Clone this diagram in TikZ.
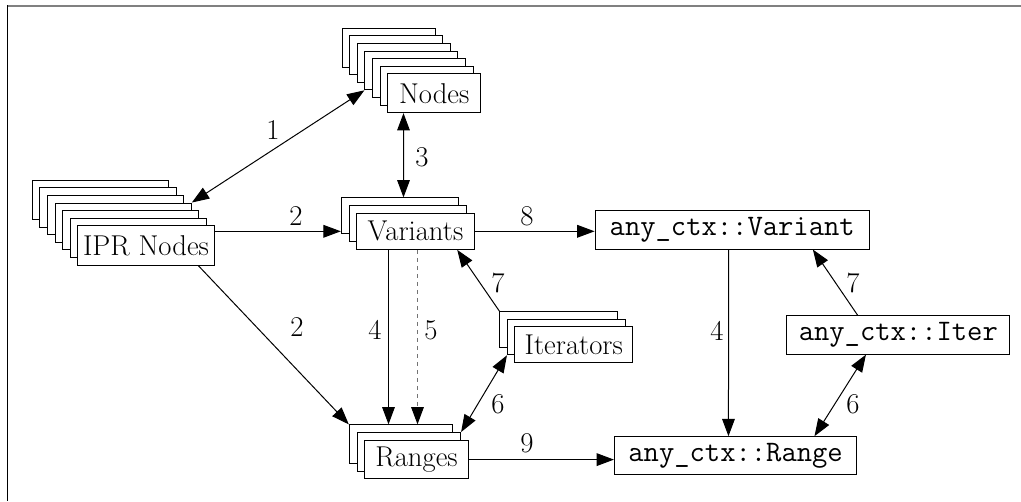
\documentclass[tikz,border=0pt]{standalone}
\usepackage{fontspec}
\usetikzlibrary{arrows.meta,calc}
\begin{document}
\begin{tikzpicture}[x=0.75pt,y=-0.75pt,
  stk/.style={draw=black, line width=0.75pt, fill=white, inner sep=0pt, font=\fontsize{21.5}{24}\selectfont},
  mono/.style={draw=black, line width=0.75pt, fill=white, inner sep=0pt, font=\ttfamily\fontsize{22.3}{25}\selectfont},
  edge/.style={line width=0.75pt, -{Triangle[length=13pt,width=9.5pt]}},
  bedge/.style={line width=0.75pt, {Triangle[length=13pt,width=9.5pt]}-{Triangle[length=13pt,width=9.5pt]}},
  lab/.style={font=\fontsize{21.5}{24}\selectfont, inner sep=0pt}]
\useasboundingbox (0,0) rectangle (1021,501);
% frame
\draw[gray, line width=1.5pt] (7,5.5) -- (1021,5.5);
\draw[black, line width=0.9pt] (7.3,5) -- (7.3,501);

% IPR Nodes stack
\foreach \i in {0,...,5}{\node[stk, minimum width=102.2pt, minimum height=29.5pt] (ipr\i) at ({100.4+\i*7.6},{199.9+\i*7.6}) {};}
\node[stk, minimum width=102.2pt, minimum height=29.5pt] (ipr6) at (146,245.5) {IPR Nodes};

% Nodes stack
\foreach \i in {0,...,5}{\node[stk, minimum width=69.75pt, minimum height=29pt] (nodes\i) at ({388.6+\i*7.6},{47.7+\i*7.6}) {};}
\node[stk, minimum width=69.75pt, minimum height=29pt] (nodes6) at (434.2,93.3) {Nodes};

% Variants stack
\foreach \i in {0,1}{\node[stk, minimum width=88.2pt, minimum height=27pt] (var\i) at ({400.1+\i*7.7},{215.9+\i*7.7}) {};}
\node[stk, minimum width=88.2pt, minimum height=27pt] (var2) at (415.5,231.3) {Variants};

% Ranges stack
\foreach \i in {0,1}{\node[stk, minimum width=77.7pt, minimum height=29pt] (rng\i) at ({401.1+\i*7.7},{444.2+\i*7.7}) {};}
\node[stk, minimum width=77.7pt, minimum height=29pt] (rng2) at (416.5,459.6) {Ranges};

% Iterators stack
\foreach \i in {0,1}{\node[stk, minimum width=88.3pt, minimum height=26.7pt] (it\i) at ({558.8+\i*7.5},{329.5+\i*7.5}) {};}
\node[stk, minimum width=88.3pt, minimum height=26.7pt] (it2) at (573.8,344.5) {Iterators};

% any_ctx boxes
\node[mono, minimum width=205.7pt, minimum height=28.7pt] (cv) at (732.2,229.9) {any\_ctx::Variant};
\node[mono, minimum width=167.5pt, minimum height=28.7pt] (ci) at (898.3,335) {any\_ctx::Iter};
\node[mono, minimum width=181.7pt, minimum height=28.2pt] (cr) at (735.6,455.5) {any\_ctx::Range};

% edges
\draw[bedge] (ipr3.north east) -- (nodes3.south west);
\draw[bedge] ($(nodes6.south west)+(16.3,0)$) -- ($(var0.north west)+(62.7,0)$);
\draw[edge] (ipr6.east |- var2.west) -- (var0.west |- var2.west);
\draw[edge] ($(ipr6.south west)+(121,0)$) -- (rng0.north west);
\draw[edge] (var2.east) -- (var2.east -| cv.west);
\draw[edge] ($(var2.south west)+(32.3,0)$) -- ($(rng0.north west)+(39.7,0)$);
\draw[line width=0.75pt, dashed, black!55, -{Triangle[length=13pt,width=9.5pt,color=black]}] ($(var2.south west)+(61.3,0)$) -- ($(rng0.north west)+(68.7,0)$);
\draw[edge] (it0.north west) -- ($(var2.south east)+(-17.6,0)$);
\draw[bedge] (it1.south west) -- (rng1.north east);
\draw[edge] (rng2.east) -- (rng2.east -| cr.west);
\draw[edge] ($(cv.south west)+(134,0)$) -- ($(cr.north west)+(114.5,0)$);
\draw[edge] ($(ci.north west)+(71.6,0)$) -- ($(cv.south west)+(218.3,0)$);
\draw[bedge] ($(cr.north west)+(200.5,0)$) -- ($(ci.south west)+(79.8,0)$);

% labels
\node[lab] (l1) at (273,130) {1};
\node[lab] (l3) at (422,157) {3};
\node[lab] (l2a) at (296,216) {2};
\node[lab] (l2b) at (297,327) {2};
\node[lab] (l8) at (527,216) {8};
\node[lab] (l4a) at (375,330) {4};
\node[lab] (l5) at (431,330) {5};
\node[lab] (l7a) at (498,283) {7};
\node[lab] (l6a) at (498,404) {6};
\node[lab] (l9) at (527,443) {9};
\node[lab] (l4b) at (717,331) {4};
\node[lab] (l7b) at (853,283) {7};
\node[lab] (l6b) at (853,404) {6};
\end{tikzpicture}
\end{document}
